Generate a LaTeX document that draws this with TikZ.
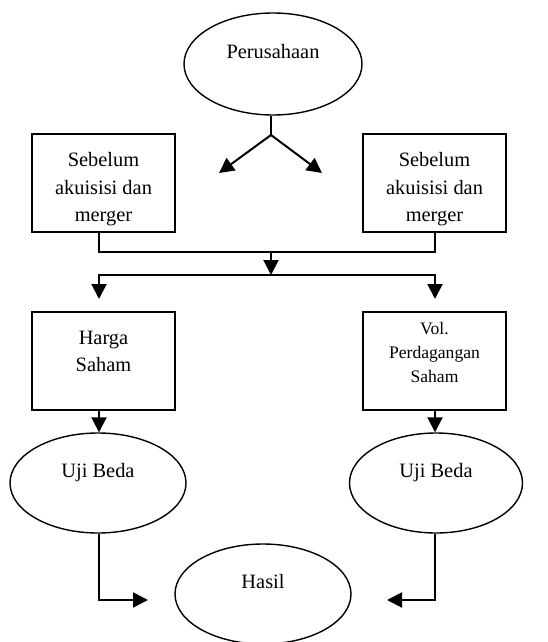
\documentclass[tikz,border=0pt]{standalone}
\usepackage{fontspec}
\setmainfont{Liberation Serif}
\usetikzlibrary{arrows.meta,shapes.geometric}

\begin{document}
\begin{tikzpicture}[x=1pt,y=-1pt,>={Triangle[length=15pt,width=15pt]},line width=2pt,
		font=\fontsize{20.4}{27.5}\selectfont,
		oval node/.style={ellipse,draw,line width=1.4pt,minimum width=176pt,minimum height=100pt,inner sep=0pt,text height=14pt,text depth=25pt},
		box node/.style={rectangle,draw,minimum width=143pt,minimum height=98pt,align=center,inner sep=0pt}]
		\useasboundingbox (0,0) rectangle (547,642);
		\node[oval node,minimum width=178pt,minimum height=102pt] (per) at (273,64) {Perusahaan};
		\node[box node] (sb1) at (103.5,183) {\rule{0pt}{27pt}Sebelum\\akuisisi dan\\merger};
		\node[box node] (sb2) at (434.5,183) {\rule{0pt}{27pt}Sebelum\\akuisisi dan\\merger};
		\node[box node] (hs) at (103.5,361) {Harga\\Saham\\[-8pt]};
		\node[box node,font=\fontsize{17.6}{24}\selectfont] (vol) at (434.5,361) {Vol.\\Perdagangan\\Saham\\[-6pt]};
		\node[oval node] (ub1) at (98,483) {Uji Beda};
		\node[oval node,minimum width=173pt] (ub2) at (436,483) {Uji Beda};
		\node[oval node] (hasil) at (263,594) {Hasil};
		% titik bantu
		\coordinate (fork) at (271,135);
		\coordinate (tipL) at (219,173);
		\coordinate (tipR) at (322,173);
		\coordinate (join) at (271,252);
		\coordinate (split) at (271,275);
		\coordinate (tipH) at (99,299);
		\coordinate (tipV) at (435,299);
		\coordinate (inL) at (148,600);
		\coordinate (inR) at (387,600);
		\draw (fork |- per.south) -- (fork);
		\draw[->] (fork) -- (tipL);
		\draw[->] (fork) -- (tipR);
		\draw (tipH |- sb1.south) |- (join) -| (tipV |- sb2.south);
		\draw[->] (join) -- (split);
		\draw[->] (split) -| (tipH);
		\draw[->] (split) -| (tipV);
		\draw[->] (tipH |- hs.south) -- (tipH |- ub1.north);
		\draw[->] (tipV |- vol.south) -- (tipV |- ub2.north);
		\draw[->] (tipH |- ub1.south) |- (inL);
		\draw[->] (tipV |- ub2.south) |- (inR);
\end{tikzpicture}
\end{document}
